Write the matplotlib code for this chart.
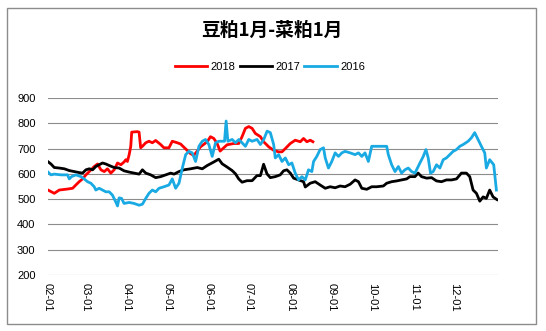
import matplotlib
matplotlib.use("Agg")
import matplotlib.pyplot as plt
from matplotlib.patches import Rectangle

plt.rcParams['font.family'] = ['Liberation Sans', 'DejaVu Sans']

# days counted from Feb 1, spread value
days_2018 = [0, 4.7, 8.4, 14.6, 18.4, 20.8, 23.3, 25.8, 28.3, 30.8, 34.5, 37, 39.5, 42, 44.4,
             46.9, 49.4, 51.9, 54.4, 56.8, 58.1, 59.3, 60.6, 61.8, 62.5, 66.8, 68, 69.2, 70.5,
             73, 75.4, 77.9, 80.4, 84.1, 86.6, 90.3, 92.8, 96.5, 99, 103.5, 106.4, 108.9, 113.9,
             118.9, 121.3, 123.8, 126.3, 128.5, 133.7, 138.7, 142.4, 144.9, 147.4, 149.9, 152.4,
             154.8, 158.6, 161, 164.8, 168.5, 172.2, 174.7, 177.2, 180.9, 184.6, 188.4, 190.8,
             193.3, 195.8, 197.8]
vals_2018 = [536, 523, 536, 540, 543, 556, 569, 580, 596, 609, 629, 639, 616, 609, 620,
             603, 616, 643, 636, 647, 656, 649, 676, 709, 765, 767, 765, 703, 709,
             723, 729, 723, 732, 716, 703, 703, 729, 723, 718, 695, 680, 673, 707,
             727, 747, 740, 720, 690, 715, 720, 720, 747, 780, 787, 780,
             760, 747, 727, 707, 693, 687, 687, 700, 720, 733, 727, 740,
             727, 733, 727]

days_2017 = [0, 2.2, 4.7, 8.4, 12.2, 15.9, 19.6, 23.3, 25.8, 28.3, 30.8, 33.3, 35.7, 38.2,
             40.7, 43.2, 45.7, 49.4, 53.1, 56.8, 60.6, 64.3, 68, 70.5, 73, 76.7, 80.4, 84.1,
             87.9, 91.6, 94.1, 97.8, 101.5, 106.5, 111.4, 115.2, 118.9, 123.8, 127.5, 130,
             133.7, 137.5, 140, 142.4, 144.9, 148.6, 152.4, 156, 158.6, 161, 163.5,
             166, 169.7, 173.4, 175.9, 178.4, 180.9, 183.4, 187.1, 190.8, 192.1, 195.8, 199.5,
             203.2, 207, 210.7, 214.4, 218.1, 221.8, 225.6, 229.3, 231.8, 234.3, 238, 241.7,
             245.4, 250.4, 252.9, 256.6, 260.3, 264, 267.8, 270.2, 274, 276.4, 278.9, 282.7,
             286.4, 290.1, 293.8, 297.5, 301.3, 305, 308.7, 312.4, 314.9, 317.4, 319.9,
             322.4, 324.9, 327.3, 329.8, 332.3, 335.3]
vals_2017 = [648, 639, 625, 623, 620, 613, 609, 605, 603, 616, 620, 616, 629, 636,
             643, 639, 633, 625, 623, 612, 607, 603, 599, 616, 603, 596, 585, 589,
             596, 603, 599, 609, 616, 620, 625, 620, 633, 647, 658, 640,
             627, 613, 600, 580, 567, 573, 573, 593, 593, 638, 600,
             585, 589, 596, 612, 616, 603, 583, 576, 569, 548, 563, 569,
             556, 543, 549, 545, 552, 549, 559, 576, 569, 543, 539, 549,
             549, 552, 563, 569, 572, 576, 580, 589, 589, 603, 589, 583,
             585, 572, 569, 576, 576, 580, 603, 603, 589, 536, 523,
             492, 509, 503, 536, 509, 498]

days_2016 = [0, 2.2, 4.7, 9.7, 14.6, 15.9, 17.6, 20.8, 24.6, 27, 29.5, 32, 34.5, 35.7,
             38.2, 40.7, 43.2, 45.7, 48.1, 50.6, 51.9, 53.1, 54.9, 56.8, 60.6, 64.3, 68,
             70.5, 73, 75.4, 77.9, 80.4, 82.9, 86.6, 90.3, 92.8, 95.3, 97.8, 100.3,
             102.8, 105.2, 107.7, 110.2, 112.7, 115.2, 117.6, 120.1, 122.6, 125.1, 127.6,
             130, 131.8, 133, 134.3, 137.5, 140, 142.5, 144.9, 147.4, 149.9, 152.4, 156.1,
             158.6, 161.1, 163.6, 166, 168.5, 169.7, 172.2, 174.7, 177.2, 179.7, 182.1,
             184.6, 187.1, 189.6, 192.1, 194.5, 197, 198.3, 200.7, 203.2, 205.7, 207,
             209.4, 211.9, 214.4, 216.9, 219.4, 221.8, 225.6, 229.3, 231.8, 234.3, 236.7,
             239.2, 241.7, 245.4, 249.1, 252.9, 254.1, 256.6, 259.1, 261.6, 264, 266.5,
             269, 271.5, 274, 277.7, 280.2, 282.2, 283.9, 285.6, 287.6, 290.1, 292.6,
             295.1, 297.5, 300, 302.5, 305, 307.5, 310, 313.7, 316.2, 318.6, 321.1,
             323.6, 326.1, 327.3, 329.8, 332.8, 334.8]
vals_2016 = [607, 596, 599, 596, 596, 580, 589, 596, 589, 580, 569, 563, 549, 536,
             543, 536, 529, 529, 516, 489, 473, 505, 503, 483, 487, 483, 476,
             480, 503, 523, 536, 529, 543, 549, 556, 580, 543, 563, 623,
             676, 689, 683, 649, 709, 729, 736, 716, 669, 723, 729,
             729, 729, 809, 729, 736, 723, 736, 723, 709, 736, 729, 736,
             716, 736, 769, 763, 716, 663, 676, 649, 663, 636, 643,
             603, 576, 589, 576, 616, 609, 649, 669, 696, 703, 663,
             623, 649, 683, 669, 683, 689, 683, 676, 683, 669, 683,
             649, 709, 709, 709, 709, 676, 636, 609, 629, 603, 616,
             623, 609, 603, 643, 669, 696, 663, 603, 609, 636, 623,
             656, 663, 676, 689, 696, 709, 716, 729, 743, 763, 736,
             709, 683, 623, 656, 636, 536]

tick_days = [0, 28, 59, 89, 120, 150, 181, 212, 242, 273, 303]
tick_labels = ['02-01', '03-01', '04-01', '05-01', '06-01', '07-01',
               '08-01', '09-01', '10-01', '11-01', '12-01']

fig = plt.figure(figsize=(5.46, 3.31), dpi=100)
ax = fig.add_axes([48 / 546, 1 - 275 / 331, 450 / 546, 177 / 331])

ax.plot(days_2018, vals_2018, color='#FF0000', lw=2.0, label='2018', zorder=3)
ax.plot(days_2017, vals_2017, color='#000000', lw=2.0, label='2017', zorder=3)
ax.plot(days_2016, vals_2016, color='#19AAE3', lw=2.0, label='2016', zorder=3)

ax.set_ylim(200, 900)
ax.set_yticks(range(200, 901, 100))
ax.set_xlim(0.5, 336)
ax.set_xticks(tick_days)
ax.set_xticklabels(tick_labels, rotation=270, fontsize=8)
ax.tick_params(axis='y', labelsize=8, length=0, pad=9)
ax.tick_params(axis='x', length=0, pad=6)
ax.grid(axis='y', color='#8C8C8C', lw=0.8)
ax.set_axisbelow(True)
for s in ax.spines.values():
    s.set_visible(False)

fig.text(0.497, 1 - 30 / 331, '豆粕1月-菜粕1月', ha='center', va='center', fontsize=13.5,
         fontweight='bold', family=['Noto Sans CJK SC', 'DejaVu Sans'])

fig.legend(loc='center', bbox_to_anchor=(270 / 546, 1 - 67 / 331), ncol=3, frameon=False,
           fontsize=8, handlelength=2.9, handletextpad=0.35, columnspacing=0.35,
           borderaxespad=0)

fig.patches.append(Rectangle((7 / 546, 1 - 324 / 331), 529 / 546, 316 / 331,
                             transform=fig.transFigure, fill=False,
                             edgecolor='#8C8C8C', lw=1.0))

fig.savefig('out.png', dpi=100)
